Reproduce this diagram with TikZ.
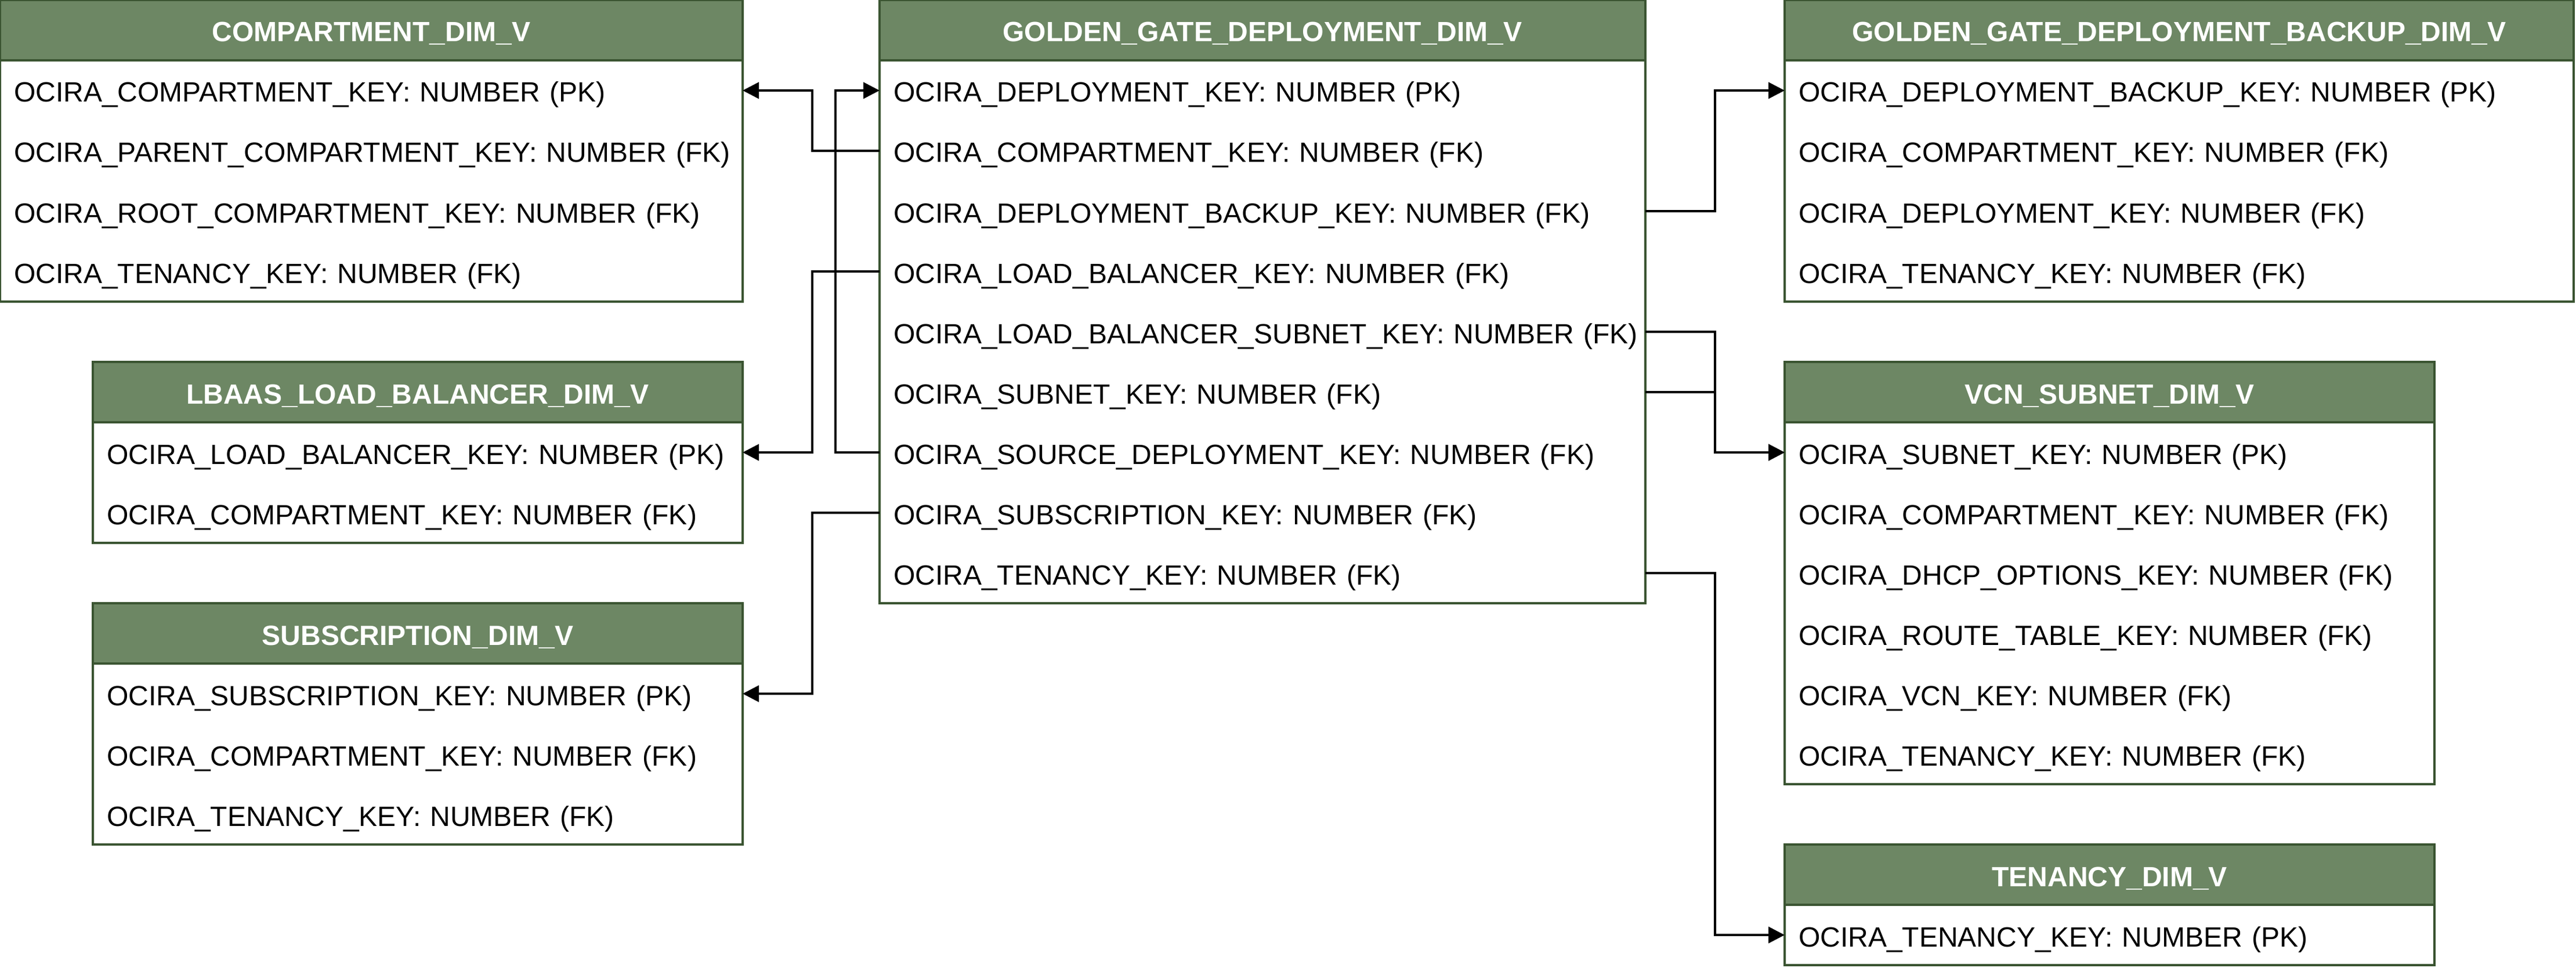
\documentclass[tikz,border=0pt]{standalone}
\usepackage{fontspec}
\setmainfont{Liberation Sans}
\usetikzlibrary{arrows.meta}
\definecolor{hdrgreen}{HTML}{6D8764}
\definecolor{edgegreen}{HTML}{3A5431}
\begin{document}
\fontsize{12}{14}\selectfont
\begin{tikzpicture}
    [x=1pt,y=-1pt,inner sep=0pt,outer sep=0pt,line width=1pt,
     hdr/.style={anchor=north west,draw=edgegreen,fill=hdrgreen,text=white,font=\bfseries,
       minimum height=26pt,text height=12pt,text depth=2pt},
     tbl/.style={anchor=north west,draw=edgegreen,fill=white},
     attr/.style={anchor=west,text width=#1,align=left,inner xsep=6pt,minimum height=26pt,
       text height=12pt,text depth=2pt},
     fk/.style={draw=black,-{Triangle[length=7pt,width=7pt]}}]
    \useasboundingbox (0,0) rectangle (1110,420);
    % compartment
    \node (comp) at (0, 0) [hdr,minimum width=320pt] {COMPARTMENT\_DIM\_V};
    \node (compbox) at (0, 26) [tbl,minimum width=320pt,minimum height=104pt] {};
    \node (comp1) at (0, 39) [attr=308pt] {OCIRA\_COMPARTMENT\_KEY: NUMBER (PK)};
    \node (comp2) at (0, 65) [attr=308pt] {\mbox{OCIRA\_PARENT\_COMPARTMENT\_KEY: NUMBER (FK)}};
    \node (comp3) at (0, 91) [attr=308pt] {OCIRA\_ROOT\_COMPARTMENT\_KEY: NUMBER (FK)};
    \node (comp4) at (0, 117) [attr=308pt] {OCIRA\_TENANCY\_KEY: NUMBER (FK)};
    % load balancer
    \node (lb) at (40, 156) [hdr,minimum width=280pt] {LBAAS\_LOAD\_BALANCER\_DIM\_V};
    \node (lbbox) at (40, 182) [tbl,minimum width=280pt,minimum height=52pt] {};
    \node (lb1) at (40, 195) [attr=268pt] {OCIRA\_LOAD\_BALANCER\_KEY: NUMBER (PK)};
    \node (lb2) at (40, 221) [attr=268pt] {OCIRA\_COMPARTMENT\_KEY: NUMBER (FK)};
    % subscription
    \node (sub) at (40, 260) [hdr,minimum width=280pt] {SUBSCRIPTION\_DIM\_V};
    \node (subbox) at (40, 286) [tbl,minimum width=280pt,minimum height=78pt] {};
    \node (sub1) at (40, 299) [attr=268pt] {OCIRA\_SUBSCRIPTION\_KEY: NUMBER (PK)};
    \node (sub2) at (40, 325) [attr=268pt] {OCIRA\_COMPARTMENT\_KEY: NUMBER (FK)};
    \node (sub3) at (40, 351) [attr=268pt] {OCIRA\_TENANCY\_KEY: NUMBER (FK)};
    % deployment
    \node (gg) at (379, 0) [hdr,minimum width=330pt] {GOLDEN\_GATE\_DEPLOYMENT\_DIM\_V};
    \node (ggbox) at (379, 26) [tbl,minimum width=330pt,minimum height=234pt] {};
    \node (gg1) at (379, 39) [attr=318pt] {OCIRA\_DEPLOYMENT\_KEY: NUMBER (PK)};
    \node (gg2) at (379, 65) [attr=318pt] {OCIRA\_COMPARTMENT\_KEY: NUMBER (FK)};
    \node (gg3) at (379, 91) [attr=318pt] {OCIRA\_DEPLOYMENT\_BACKUP\_KEY: NUMBER (FK)};
    \node (gg4) at (379, 117) [attr=318pt] {OCIRA\_LOAD\_BALANCER\_KEY: NUMBER (FK)};
    \node (gg5) at (379, 143) [attr=318pt] {\mbox{OCIRA\_LOAD\_BALANCER\_SUBNET\_KEY: NUMBER (FK)}};
    \node (gg6) at (379, 169) [attr=318pt] {OCIRA\_SUBNET\_KEY: NUMBER (FK)};
    \node (gg7) at (379, 195) [attr=318pt] {OCIRA\_SOURCE\_DEPLOYMENT\_KEY: NUMBER (FK)};
    \node (gg8) at (379, 221) [attr=318pt] {OCIRA\_SUBSCRIPTION\_KEY: NUMBER (FK)};
    \node (gg9) at (379, 247) [attr=318pt] {OCIRA\_TENANCY\_KEY: NUMBER (FK)};
    % deployment backup
    \node (bk) at (769, 0) [hdr,minimum width=340pt] {GOLDEN\_GATE\_DEPLOYMENT\_BACKUP\_DIM\_V};
    \node (bkbox) at (769, 26) [tbl,minimum width=340pt,minimum height=104pt] {};
    \node (bk1) at (769, 39) [attr=328pt] {OCIRA\_DEPLOYMENT\_BACKUP\_KEY: NUMBER (PK)};
    \node (bk2) at (769, 65) [attr=328pt] {OCIRA\_COMPARTMENT\_KEY: NUMBER (FK)};
    \node (bk3) at (769, 91) [attr=328pt] {OCIRA\_DEPLOYMENT\_KEY: NUMBER (FK)};
    \node (bk4) at (769, 117) [attr=328pt] {OCIRA\_TENANCY\_KEY: NUMBER (FK)};
    % subnet
    \node (vcn) at (769, 156) [hdr,minimum width=280pt] {VCN\_SUBNET\_DIM\_V};
    \node (vcnbox) at (769, 182) [tbl,minimum width=280pt,minimum height=156pt] {};
    \node (vcn1) at (769, 195) [attr=268pt] {OCIRA\_SUBNET\_KEY: NUMBER (PK)};
    \node (vcn2) at (769, 221) [attr=268pt] {OCIRA\_COMPARTMENT\_KEY: NUMBER (FK)};
    \node (vcn3) at (769, 247) [attr=268pt] {OCIRA\_DHCP\_OPTIONS\_KEY: NUMBER (FK)};
    \node (vcn4) at (769, 273) [attr=268pt] {OCIRA\_ROUTE\_TABLE\_KEY: NUMBER (FK)};
    \node (vcn5) at (769, 299) [attr=268pt] {OCIRA\_VCN\_KEY: NUMBER (FK)};
    \node (vcn6) at (769, 325) [attr=268pt] {OCIRA\_TENANCY\_KEY: NUMBER (FK)};
    % tenancy
    \node (ten) at (769, 364) [hdr,minimum width=280pt] {TENANCY\_DIM\_V};
    \node (tenbox) at (769, 390) [tbl,minimum width=280pt,minimum height=26pt] {};
    \node (ten1) at (769, 403) [attr=268pt] {OCIRA\_TENANCY\_KEY: NUMBER (PK)};
    % keys
    \draw [fk] (gg2.west) -- ++(-29,0) |- (comp1.east);
    \draw [fk] (gg4.west) -- ++(-29,0) |- (lb1.east);
    \draw [fk] (gg8.west) -- ++(-29,0) |- (sub1.east);
    \draw [fk] (gg7.west) -- ++(-19,0) |- (gg1.west);
    \draw [fk] (gg3.east) -- ++(30,0) |- (bk1.west);
    \draw [fk] (gg5.east) -- ++(30,0) |- (vcn1.west);
    \draw [fk] (gg6.east) -- ++(30,0) |- (vcn1.west);
    \draw [fk] (gg9.east) -- ++(30,0) |- (ten1.west);
  \end{tikzpicture}
\end{document}
